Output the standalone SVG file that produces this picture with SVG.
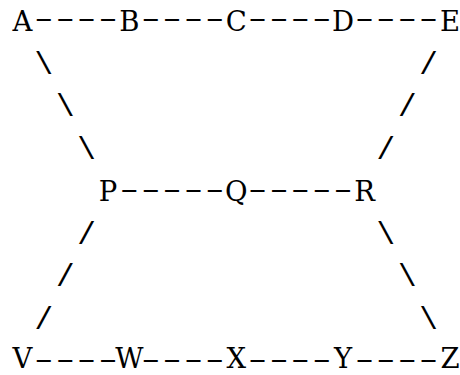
<svg xmlns="http://www.w3.org/2000/svg" width="460" height="375" viewBox="0 0 460 375">
<style>
text{font-family:"Liberation Mono","DejaVu Sans Mono",monospace;font-size:31px;fill:#000;text-anchor:middle}
.n{font-family:"DejaVu Serif","Liberation Serif",serif;font-size:27.5px}
.d{font-family:"Liberation Sans","Arimo",sans-serif;font-size:26px}
</style>
<rect width="460" height="375" fill="#fff"/>
<g id="connectors">
<g transform="scale(2.2,1)">
<text class="d" x="19.945 29.659 39.377 49.091" y="27.1">----</text>
<text class="d" x="68.523 78.241 87.955 97.673" y="27.1">----</text>
<text class="d" x="117.105 126.818 136.536 146.25" y="27.1">----</text>
<text class="d" x="165.682 175.4 185.114 194.832" y="27.1">----</text>
<text class="d" x="58.809 68.523 78.241 87.955 97.673" y="198">-----</text>
<text class="d" x="117.105 126.818 136.536 146.25 155.968" y="198">-----</text>
<text class="d" x="19.945 29.659 39.377 49.091" y="368.5">----</text>
<text class="d" x="68.523 78.241 87.955 97.673" y="368.5">----</text>
<text class="d" x="117.105 126.818 136.536 146.25" y="368.5">----</text>
<text class="d" x="165.682 175.4 185.114 194.832" y="368.5">----</text>
</g>
<text x="43.88 65.25 86.63" y="73.5 116 158.5">\\\</text>
<text x="428.63 407.25 385.88" y="73.5 116 158.5">///</text>
<text x="86.63 65.25 43.88" y="243.5 286 328.5">///</text>
<text x="385.88 407.25 428.63" y="243.5 286 328.5">\\\</text>
</g>
<g id="A"><text class="n" x="22.5" y="31">A</text></g>
<g id="B"><text class="n" x="129.38" y="31">B</text></g>
<g id="C"><text class="n" x="236.25" y="31">C</text></g>
<g id="D"><text class="n" x="343.13" y="31">D</text></g>
<g id="E"><text class="n" x="450" y="31">E</text></g>
<g id="P"><text class="n" x="108" y="201">P</text></g>
<g id="Q"><text class="n" x="236.25" y="201">Q</text></g>
<g id="R"><text class="n" x="364.5" y="201">R</text></g>
<g id="V"><text class="n" x="22.5" y="368.4">V</text></g>
<g id="W"><text class="n" x="129.38" y="368.4">W</text></g>
<g id="X"><text class="n" x="236.25" y="368.4">X</text></g>
<g id="Y"><text class="n" x="343.13" y="368.4">Y</text></g>
<g id="Z"><text class="n" x="450" y="368.4">Z</text></g>
</svg>
